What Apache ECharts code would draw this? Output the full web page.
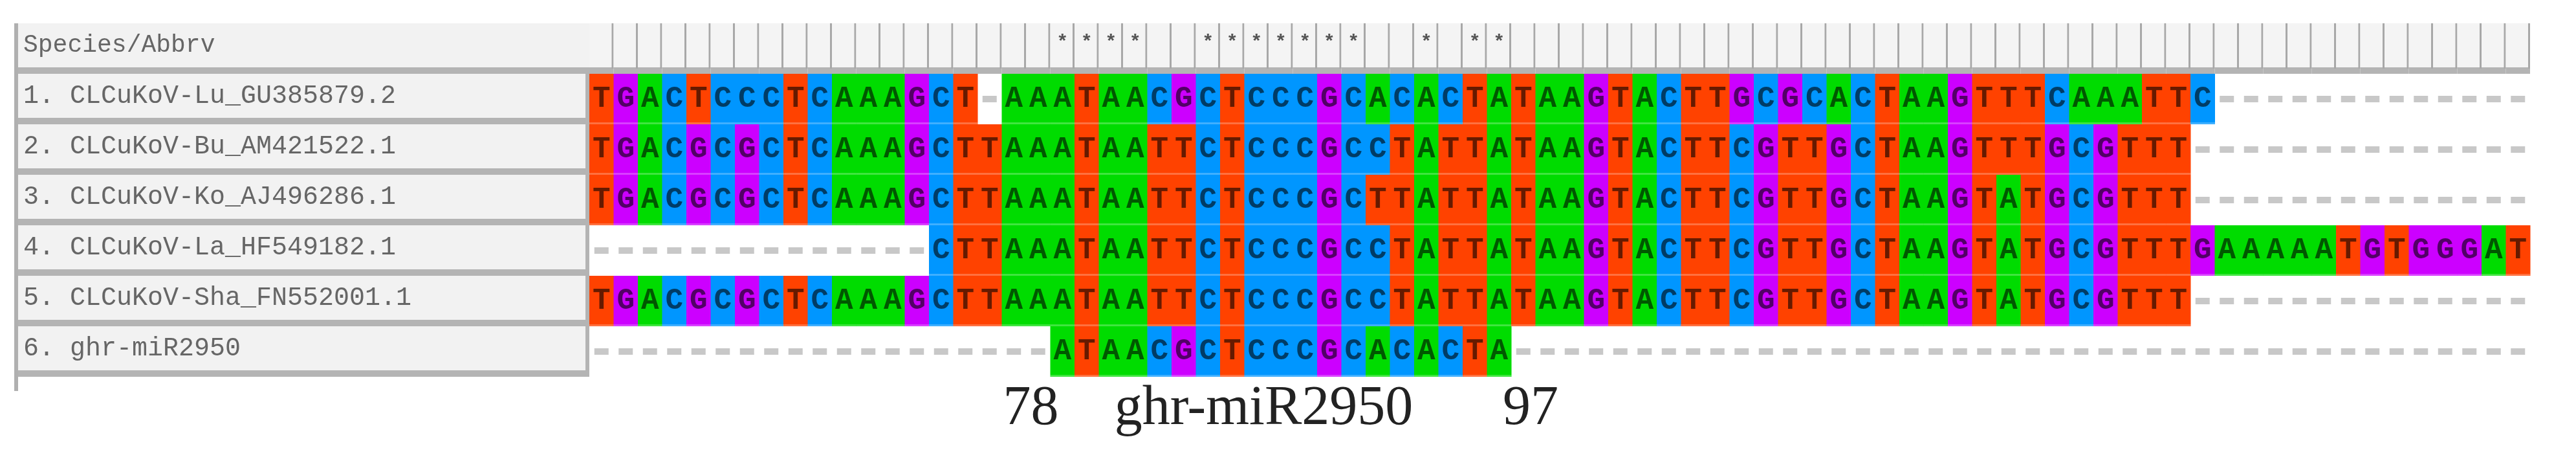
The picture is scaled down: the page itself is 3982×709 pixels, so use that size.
<!DOCTYPE html>
<html>
<head>
<meta charset="utf-8">
<script src="https://cdn.jsdelivr.net/npm/echarts@6/dist/echarts.min.js"></script>
<style>
html,body{margin:0;padding:0;background:#fff;}
#chart{width:3982px;height:709px;}
</style>
</head>
<body>
<div id="chart"></div>
<script>
var seqNames = [
  '1. CLCuKoV-Lu_GU385879.2',
  '2. CLCuKoV-Bu_AM421522.1',
  '3. CLCuKoV-Ko_AJ496286.1',
  '4. CLCuKoV-La_HF549182.1',
  '5. CLCuKoV-Sha_FN552001.1',
  '6. ghr-miR2950'
];
var sequences = [
  'TGACTCCCTCAAAGCT-AAATAACGCTCCCGCACACTATAAGTACTTGCGCACTAAGTTTCAAATTC-------------',
  'TGACGCGCTCAAAGCTTAAATAATTCTCCCGCCTATTATAAGTACTTCGTTGCTAAGTTTGCGTTT--------------',
  'TGACGCGCTCAAAGCTTAAATAATTCTCCCGCTTATTATAAGTACTTCGTTGCTAAGTATGCGTTT--------------',
  '--------------CTTAAATAATTCTCCCGCCTATTATAAGTACTTCGTTGCTAAGTATGCGTTTGAAAAATGTGGGAT',
  'TGACGCGCTCAAAGCTTAAATAATTCTCCCGCCTATTATAAGTACTTCGTTGCTAAGTATGCGTTT--------------',
  '-------------------ATAACGCTCCCGCACACTA------------------------------------------'
];
var headerTitle = 'Species/Abbrv';
var footTexts = ['78', 'ghr-miR2950', '97'];
var footCols = [18.2, 27.8, 38.8];

var baseColors = {A:'#00dc00', T:'#ff4200', C:'#0096ff', G:'#cc00ff'};
var nCols = sequences[0].length;

var cells = [];
sequences.forEach(function(s, r){
  for (var c = 0; c < s.length; c++) cells.push([c, r, s[c]]);
});
var header = [];
for (var c = 0; c < nCols; c++) {
  var star = sequences.every(function(s){ return s[c] !== '-' && s[c] === sequences[0][c]; });
  header.push([c, -1, star ? 1 : 0]);
}

var chart = echarts.init(document.getElementById('chart'));
var option = {
  animation:false,
  grid:{left:911, top:36, width:3000, height:546},
  xAxis:{type:'value', min:0, max:nCols, show:false},
  yAxis:{type:'value', min:-1, max:6, inverse:true, show:false},
  series:[{
    type:'custom',
    data:header,
    renderItem:function(params, api){
      var p0 = api.coord([api.value(0), -1]);
      var p1 = api.coord([api.value(0)+1, 0]);
      var w = p1[0]-p0[0];
      var ch = [
        {type:'rect', shape:{x:p0[0], y:p0[1], width:w, height:p1[1]-p0[1]-10}, style:{fill:'#f4f4f4'}},
        {type:'rect', shape:{x:p0[0], y:p1[1]-10, width:w, height:10}, style:{fill:'#b4b4b4'}},
        {type:'rect', shape:{x:p0[0]+w-3, y:p0[1], width:3, height:p1[1]-p0[1]-8}, style:{fill:'#a8a8a8'}}
      ];
      if (api.value(2)) ch.push({type:'text', style:{text:'*', x:p0[0]+w/2, y:p0[1]+30, align:'center', verticalAlign:'middle', font:'bold 30px "Liberation Mono"', fill:'#555'}});
      return {type:'group', children:ch};
    }
  },{
    type:'custom',
    data:cells,
    renderItem:function(params, api){
      var r = api.value(1);
      var ch_ = cells[params.dataIndex][2];
      var p0 = api.coord([api.value(0), r]);
      var p1 = api.coord([api.value(0)+1, r+1]);
      var w = p1[0]-p0[0], h = p1[1]-p0[1];
      if (ch_ === '-') {
        return {type:'rect', shape:{x:p0[0]+w/2-11, y:p0[1]+h/2-5, width:22, height:10}, style:{fill:'#c8c8c8'}};
      }
      return {type:'group', children:[
        {type:'rect', shape:{x:p0[0], y:p0[1], width:w+0.5, height:h}, style:{fill:baseColors[ch_]}},
        {type:'rect', shape:{x:p0[0], y:p0[1]+h-3, width:w+0.5, height:3}, style:{fill:'rgba(255,255,255,0.25)'}},
        {type:'text', style:{text:ch_, x:p0[0]+w/2, y:p0[1]+h/2, align:'center', verticalAlign:'middle', font:'bold 46px "Liberation Mono"', fill:'rgba(0,0,0,0.6)'}}
      ]};
    }
  }]
};
chart.setOption(option);

var g = [];
var hTop = chart.convertToPixel({gridIndex:0}, [0, -1])[1];
var rTop = chart.convertToPixel({gridIndex:0}, [0, 0])[1];
var rowH = chart.convertToPixel({gridIndex:0}, [0, 1])[1] - rTop;
g.push({type:'rect', shape:{x:22, y:hTop, width:6, height:rTop + rowH*6 + 22 - hTop}, style:{fill:'#b0b0b0'}});
g.push({type:'rect', shape:{x:28, y:hTop, width:883, height:rTop-hTop-10}, style:{fill:'#f2f2f2'}});
g.push({type:'rect', shape:{x:28, y:rTop-10, width:883, height:10}, style:{fill:'#b4b4b4'}});
g.push({type:'text', style:{text:headerTitle, x:36, y:(hTop+rTop-10)/2, verticalAlign:'middle', font:'38px "Liberation Mono"', fill:'#666'}});
seqNames.forEach(function(n, i){
  var y = rTop + rowH*i;
  g.push({type:'rect', shape:{x:28, y:y, width:883, height:rowH-10}, style:{fill:'#f2f2f2'}});
  g.push({type:'rect', shape:{x:28, y:y+rowH-10, width:883, height:10}, style:{fill:'#b4b4b4'}});
  g.push({type:'rect', shape:{x:905, y:y, width:6, height:rowH}, style:{fill:'#b4b4b4'}});
  g.push({type:'text', style:{text:n, x:36, y:y+(rowH-10)/2, verticalAlign:'middle', font:'40px "Liberation Mono"', fill:'#666'}});
});
footTexts.forEach(function(t, i){
  var p = chart.convertToPixel({gridIndex:0}, [footCols[i], 6.65]);
  g.push({type:'text', style:{text:t, x:p[0], y:p[1], align:'center', verticalAlign:'middle', font:'86px "Liberation Serif"', fill:'#222'}});
});
chart.setOption({graphic:g});
</script>
</body>
</html>
